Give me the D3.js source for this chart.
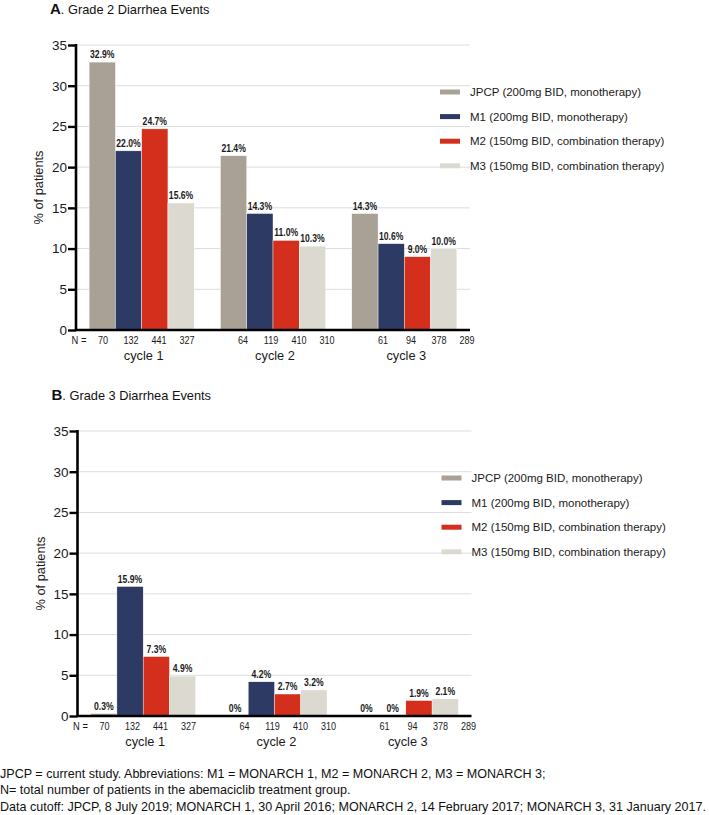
<!DOCTYPE html>
<html><head><meta charset="utf-8">
<script src="https://cdn.jsdelivr.net/npm/d3@7"></script>
<style>
html,body{margin:0;padding:0;background:#fff;}
svg{display:block;font-family:"Liberation Sans",Arial,sans-serif;}
</style></head>
<body>
<svg id="chart" width="709" height="815"></svg>
<script>
// ---- data ----
const cycles = ["cycle 1", "cycle 2", "cycle 3"];
const seriesKeys = ["JPCP", "M1", "M2", "M3"];
const seriesLabels = ["JPCP (200mg BID, monotherapy)", "M1 (200mg BID, monotherapy)",
  "M2 (150mg BID, combination therapy)", "M3 (150mg BID, combination therapy)"];
const seriesColors = ["#a9a096", "#2c3a64", "#d32f1c", "#dcd9d1"];
const grade2 = [[32.9, 22.0, 24.7, 15.6], [21.4, 14.3, 11.0, 10.3], [14.3, 10.6, 9.0, 10.0]];
const grade3 = [[0.3, 15.9, 7.3, 4.9], [0, 4.2, 2.7, 3.2], [0, 0, 1.9, 2.1]];
const nCounts = [[70, 132, 441, 327], [64, 119, 410, 310], [61, 94, 378, 289]];
const yTicks = [0, 5, 10, 15, 20, 25, 30, 35];
const panelLetters = ["A", "B"];
const panelTitles = [". Grade 2 Diarrhea Events", ". Grade 3 Diarrhea Events"];
const footnotes = [
  "JPCP = current study. Abbreviations: M1 = MONARCH 1, M2 = MONARCH 2, M3 = MONARCH 3;",
  "N= total number of patients in the abemaciclib treatment group.",
  "Data cutoff: JPCP, 8 July 2019; MONARCH 1, 30 April 2016; MONARCH 2, 14 February 2017; MONARCH 3, 31 January 2017."
];

const svg = d3.select("#chart");

// horizontally condense text (reference uses a narrow typeface)
function condense(sel, f) {
  sel.each(function () {
    const len = this.getComputedTextLength();
    d3.select(this).attr("textLength", len * f).attr("lengthAdjust", "spacingAndGlyphs");
  });
}

function drawPanel(values, idx, top, dx) {
  const left = 76 + dx, right = 470 + dx;
  const y0 = top + 285, y1 = top;
  const g = svg.append("g");

  const x = d3.scaleBand().domain(cycles).range([left, right]).paddingInner(0.2).paddingOuter(0.1);
  const xs = d3.scaleBand().domain(seriesKeys).range([0, x.bandwidth()]);
  const y = d3.scaleLinear().domain([0, 35]).range([y0, y1]);
  const color = d3.scaleOrdinal().domain(seriesKeys).range(seriesColors);

  // title
  const t = g.append("text").attr("x", 50 + dx).attr("y", top - 31).attr("fill", "#111");
  t.append("tspan").attr("font-size", 15).attr("font-weight", "bold").text(panelLetters[idx]);
  t.append("tspan").attr("font-size", 12.8).text(panelTitles[idx]);

  // gridlines
  g.append("g").selectAll("line").data(yTicks.filter(d => d > 0)).join("line")
    .attr("x1", left).attr("x2", right).attr("y1", d => y(d)).attr("y2", d => y(d))
    .attr("stroke", "#dcdcdc").attr("stroke-width", 1);

  // bars
  const groups = g.append("g").selectAll("g").data(cycles).join("g")
    .attr("transform", c => `translate(${x(c)},0)`);
  groups.selectAll("rect").data((c, i) => values[i].map((v, j) => ({k: seriesKeys[j], v})))
    .join("rect")
    .attr("x", d => xs(d.k)).attr("width", xs.bandwidth())
    .attr("y", d => y(d.v)).attr("height", d => y(0) - y(d.v))
    .attr("fill", d => color(d.k)).attr("stroke", "#fff").attr("stroke-width", 0.4);
  groups.selectAll("text").data((c, i) => values[i].map((v, j) => ({k: seriesKeys[j], v})))
    .join("text")
    .attr("x", d => xs(d.k) + xs.bandwidth() / 2).attr("y", d => y(d.v) - 4)
    .attr("text-anchor", "middle").attr("font-weight", "bold")
    .attr("font-size", 10.5).attr("fill", "#1a1a1a")
    .text(d => d.v === 0 ? "0%" : d3.format(".1f")(d.v) + "%")
    .call(condense, 0.82);

  // y axis
  const ya = g.append("g").attr("transform", `translate(${left},0)`)
    .call(d3.axisLeft(y).tickValues(yTicks).tickSize(8).tickPadding(1));
  ya.select(".domain").attr("stroke", "#000").attr("stroke-width", 2.6).attr("d", `M0,${y1 - 1}V${y0}`);
  ya.selectAll(".tick line").attr("stroke", "#000").attr("stroke-width", 2.4);
  ya.selectAll(".tick text").attr("font-family", '"Liberation Sans",Arial,sans-serif')
    .attr("font-size", 13.5).attr("fill", "#1a1a1a");

  // x baseline
  g.append("line").attr("x1", left - 1).attr("x2", right).attr("y1", y0).attr("y2", y0)
    .attr("stroke", "#000").attr("stroke-width", 2.6);

  // y label
  g.append("text").attr("transform", `translate(${43 + dx},${(y0 + y1) / 2}) rotate(-90)`)
    .attr("text-anchor", "middle").attr("font-size", 12.8).attr("fill", "#1a1a1a").text("% of patients");

  // N labels
  const xn = x.copy().range([left - 1, right + 25]);
  const xns = d3.scaleBand().domain(seriesKeys).range([0, xn.bandwidth()]);
  g.append("text").attr("x", left + 3).attr("y", y0 + 14).attr("text-anchor", "middle")
    .attr("font-size", 11).attr("fill", "#1a1a1a").text("N =").call(condense, 0.85);
  const ng = g.append("g").selectAll("g").data(cycles).join("g")
    .attr("transform", c => `translate(${xn(c)},0)`);
  ng.selectAll("text").data((c, i) => nCounts[i].map((n, j) => ({k: seriesKeys[j], n})))
    .join("text")
    .attr("x", d => xns(d.k) + xns.bandwidth() / 2).attr("y", y0 + 14)
    .attr("text-anchor", "middle").attr("font-size", 11).attr("fill", "#1a1a1a")
    .text(d => d.n)
    .call(condense, 0.82);

  // cycle labels
  g.append("g").selectAll("text").data(cycles).join("text")
    .attr("x", c => x(c) + x.bandwidth() / 2 + 2).attr("y", y0 + 30)
    .attr("text-anchor", "middle").attr("font-size", 12.8).attr("fill", "#1a1a1a").text(c => c);

  // legend
  const lg = g.append("g").selectAll("g").data(seriesKeys).join("g")
    .attr("transform", (k, i) => `translate(${440 + dx},${top + 47 + i * 24.6})`);
  lg.append("rect").attr("x", 0).attr("y", -2.5).attr("width", 20).attr("height", 5)
    .attr("fill", k => color(k));
  lg.append("text").attr("x", 30).attr("y", 4).attr("font-size", 11.5).attr("fill", "#1a1a1a")
    .text((k, i) => seriesLabels[i]);
}

drawPanel(grade2, 0, 45, 0);
drawPanel(grade3, 1, 431, 1.5);

svg.append("g").selectAll("text").data(footnotes).join("text")
  .attr("x", 0).attr("y", (d, i) => 778 + i * 16.3)
  .attr("font-size", 12.55).attr("fill", "#111").text(d => d);
</script>
</body></html>
